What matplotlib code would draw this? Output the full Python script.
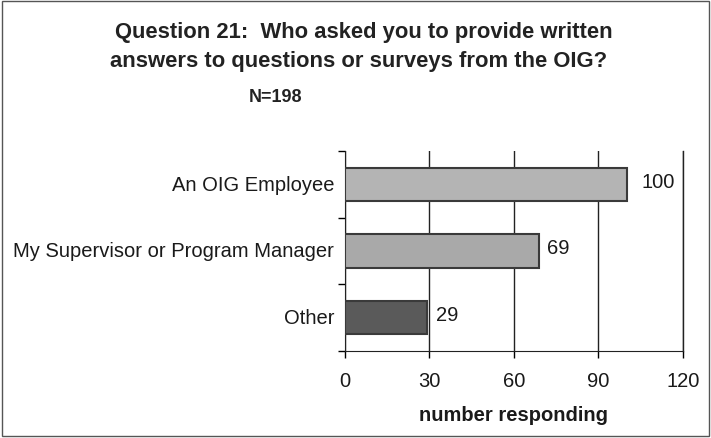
import matplotlib.pyplot as plt
from matplotlib.patches import Rectangle

plt.rcParams['font.family'] = ['Liberation Sans', 'DejaVu Sans']

# data
categories = ['An OIG Employee', 'My Supervisor or Program Manager', 'Other']
counts = [100, 69, 29]
bar_colors = ['#b4b4b4', '#a9a9a9', '#5a5a5a']
xticks = [0, 30, 60, 90, 120]
label_gap = [15, 8, 9]  # pixel gap between bar end and value label

fig = plt.figure(figsize=(7.11, 4.39), dpi=100)
ax = fig.add_axes([0.485, 0.198, 0.4755, 0.456])

y = [2, 1, 0]
ax.barh(y, counts, height=0.5, color=bar_colors, edgecolor='#3a3a3a', linewidth=1.5, zorder=3)
for yi, c, g in zip(y, counts, label_gap):
    ax.annotate(str(c), (c, yi), xytext=(g, 3), textcoords='offset pixels',
                va='center', ha='left', fontsize=14.5, color='#1a1a1a')

ax.set_xlim(0, 120)
ax.set_ylim(-0.5, 2.5)
ax.set_xticks(xticks)
ax.set_xticklabels([str(t) for t in xticks], fontsize=14.5, color='#1a1a1a')
ax.set_yticks([-0.5, 0.5, 1.5, 2.5])
ax.set_yticklabels([])
ax.tick_params(axis='y', length=5, direction='out', width=1)
ax.tick_params(axis='x', length=5, direction='out', width=1, pad=9)
for yi, name in zip(y, categories):
    ax.text(-0.032, yi, name, transform=ax.get_yaxis_transform(), ha='right', va='center',
            fontsize=14.5, color='#1a1a1a')

ax.grid(axis='x', color='#222222', linewidth=1, zorder=0)
ax.axvline(120, color='#222222', linewidth=1, clip_on=False, zorder=1)
ax.spines['top'].set_visible(False)
ax.spines['right'].set_visible(False)
ax.spines['left'].set_color('#222222')
ax.spines['bottom'].set_color('#222222')
ax.set_xlabel('number responding', fontsize=14.5, fontweight='bold', labelpad=11, color='#1a1a1a')

fig.text(0.511, 0.925, 'Question 21:  Who asked you to provide written', ha='center', va='center',
         fontsize=15.8, fontweight='bold', color='#222222')
fig.text(0.504, 0.860, 'answers to questions or surveys from the OIG?', ha='center', va='center',
         fontsize=15.8, fontweight='bold', color='#222222')
fig.text(0.387, 0.777, 'N=198', ha='center', va='center', fontsize=13, fontweight='bold', color='#222222')

fig.patches.append(Rectangle((0.003, 0.005), 0.994, 0.99, transform=fig.transFigure,
                             fill=False, edgecolor='#555555', linewidth=1))

fig.savefig('out.png', dpi=100)
